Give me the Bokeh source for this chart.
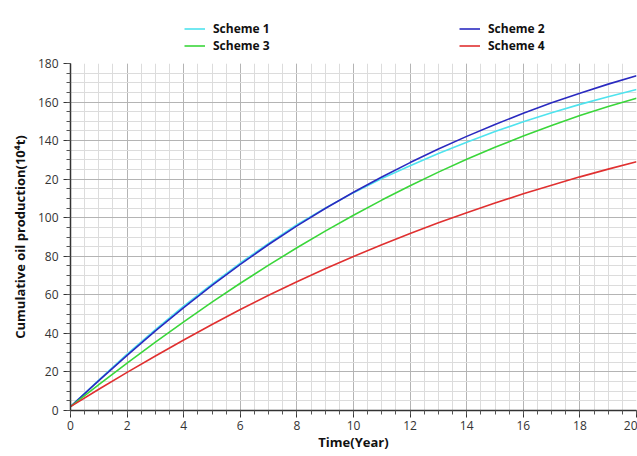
from bokeh.plotting import figure
from bokeh.layouts import column
from bokeh.models import Legend, LegendItem, FixedTicker, Range1d
from bokeh.embed import file_html
from bokeh.resources import INLINE

years = list(range(0, 21))
scheme1 = [2, 15.8, 29.2, 42.0, 54.2, 65.6, 76.5, 86.7, 96.4, 105.0, 113.0, 120.3, 127.0, 133.3,
           139.2, 144.7, 149.8, 154.5, 158.8, 162.8, 166.5]
scheme2 = [2, 15.5, 28.6, 41.3, 53.4, 64.9, 75.8, 86.1, 95.8, 104.8, 113.2, 121.1, 128.6, 135.6,
           142.2, 148.4, 154.2, 159.6, 164.6, 169.3, 173.6]
scheme3 = [2, 13.4, 24.6, 35.45, 46.0, 56.2, 66.0, 75.4, 84.4, 93.05, 101.3, 109.15, 116.6, 123.65,
           130.3, 136.55, 142.4, 147.9, 153.0, 157.7, 162.0]
scheme4 = [2, 11.0, 19.8, 28.3, 36.6, 44.65, 52.4, 59.8, 66.8, 73.5, 79.9, 86.0, 91.8, 97.35,
           102.6, 107.6, 112.4, 116.9, 121.2, 125.2, 129.0]
names = ["Scheme 1", "Scheme 2", "Scheme 3", "Scheme 4"]
colors = ["#4fe3ee", "#2a2ac0", "#3ad63a", "#e03030"]
x_ticks = [0, 2, 4, 6, 8, 10, 12, 14, 16, 18, 20]
y_ticks = [0, 20, 40, 60, 80, 100, 120, 140, 160, 180]
y_tick_labels = ["0", "20", "40", "60", "80", "100", "20", "140", "160", "180"]

FONT = "Open Sans"
series = [scheme1, scheme2, scheme3, scheme4]

# ---- legend strip on top (same series, drawn outside its visible range) ----
top = figure(width=637, height=55, output_backend="svg", toolbar_location=None,
             x_range=Range1d(100, 101), y_range=Range1d(0, 1),
             min_border=0)
top.axis.visible = False
top.grid.visible = False
top.outline_line_color = None
top.border_fill_color = "white"
leg_renderers = [top.line(years, ys, line_color=c, line_width=1.6) for ys, c in zip(series, colors)]
items = [LegendItem(label=n, renderers=[r]) for n, r in zip(names, leg_renderers)]
legend = Legend(items=items, orientation="horizontal", ncols=2,
                location=(114, 1), glyph_width=21, glyph_height=15,
                label_standoff=8, label_width=246, label_height=15, spacing=0,
                padding=0, margin=0,
                border_line_color=None, background_fill_alpha=0,
                label_text_font=FONT, label_text_font_style="bold",
                label_text_font_size="12px", label_text_color="#111111")
top.add_layout(legend, "center")

# ---- main chart ----
p = figure(width=637, height=401, output_backend="svg", toolbar_location=None,
           x_range=Range1d(0, 20), y_range=Range1d(0, 180),
           min_border_left=70, min_border_right=1, min_border_top=8, min_border_bottom=46)
p.outline_line_color = None
p.background_fill_color = "white"
p.border_fill_color = "white"

for ys, c in zip(series, colors):
    p.line(years, ys, line_color=c, line_width=1.6)

x_minor = [i * 0.5 for i in range(41)]
y_minor = [i * 5 for i in range(37)]
p.xaxis.ticker = FixedTicker(ticks=x_ticks, minor_ticks=x_minor)
p.yaxis.ticker = FixedTicker(ticks=y_ticks, minor_ticks=y_minor)
p.yaxis.major_label_overrides = {t: l for t, l in zip(y_ticks, y_tick_labels)}

for g in (p.xgrid, p.ygrid):
    g.grid_line_color = "#b4b4b4"
    g.grid_line_width = 1
    g.minor_grid_line_color = "#dcdcdc"
    g.minor_grid_line_width = 1

for ax in (p.xaxis, p.yaxis):
    ax.axis_line_color = "#333333"
    ax.axis_line_width = 1.5
    ax.major_tick_line_color = "#333333"
    ax.minor_tick_line_color = "#555555"
    ax.major_tick_out = 7
    ax.major_tick_in = 0
    ax.minor_tick_out = 4
    ax.minor_tick_in = 0
    ax.major_label_text_font = FONT
    ax.major_label_text_font_size = "12px"
    ax.major_label_text_color = "#333333"
    ax.axis_label_text_font = FONT
    ax.axis_label_text_font_style = "bold"
    ax.axis_label_text_font_size = "13px"
    ax.axis_label_text_color = "#111111"

p.xaxis.axis_label = "Time(Year)"
p.yaxis.axis_label = "Cumulative oil production(10\u2074t)"
p.xaxis.major_label_standoff = 3
p.xaxis.axis_label_standoff = 0
p.yaxis.major_label_standoff = 5
p.yaxis.axis_label_standoff = 6

layout = column(top, p, spacing=0)
open("out.html", "w").write(file_html(layout, INLINE))
